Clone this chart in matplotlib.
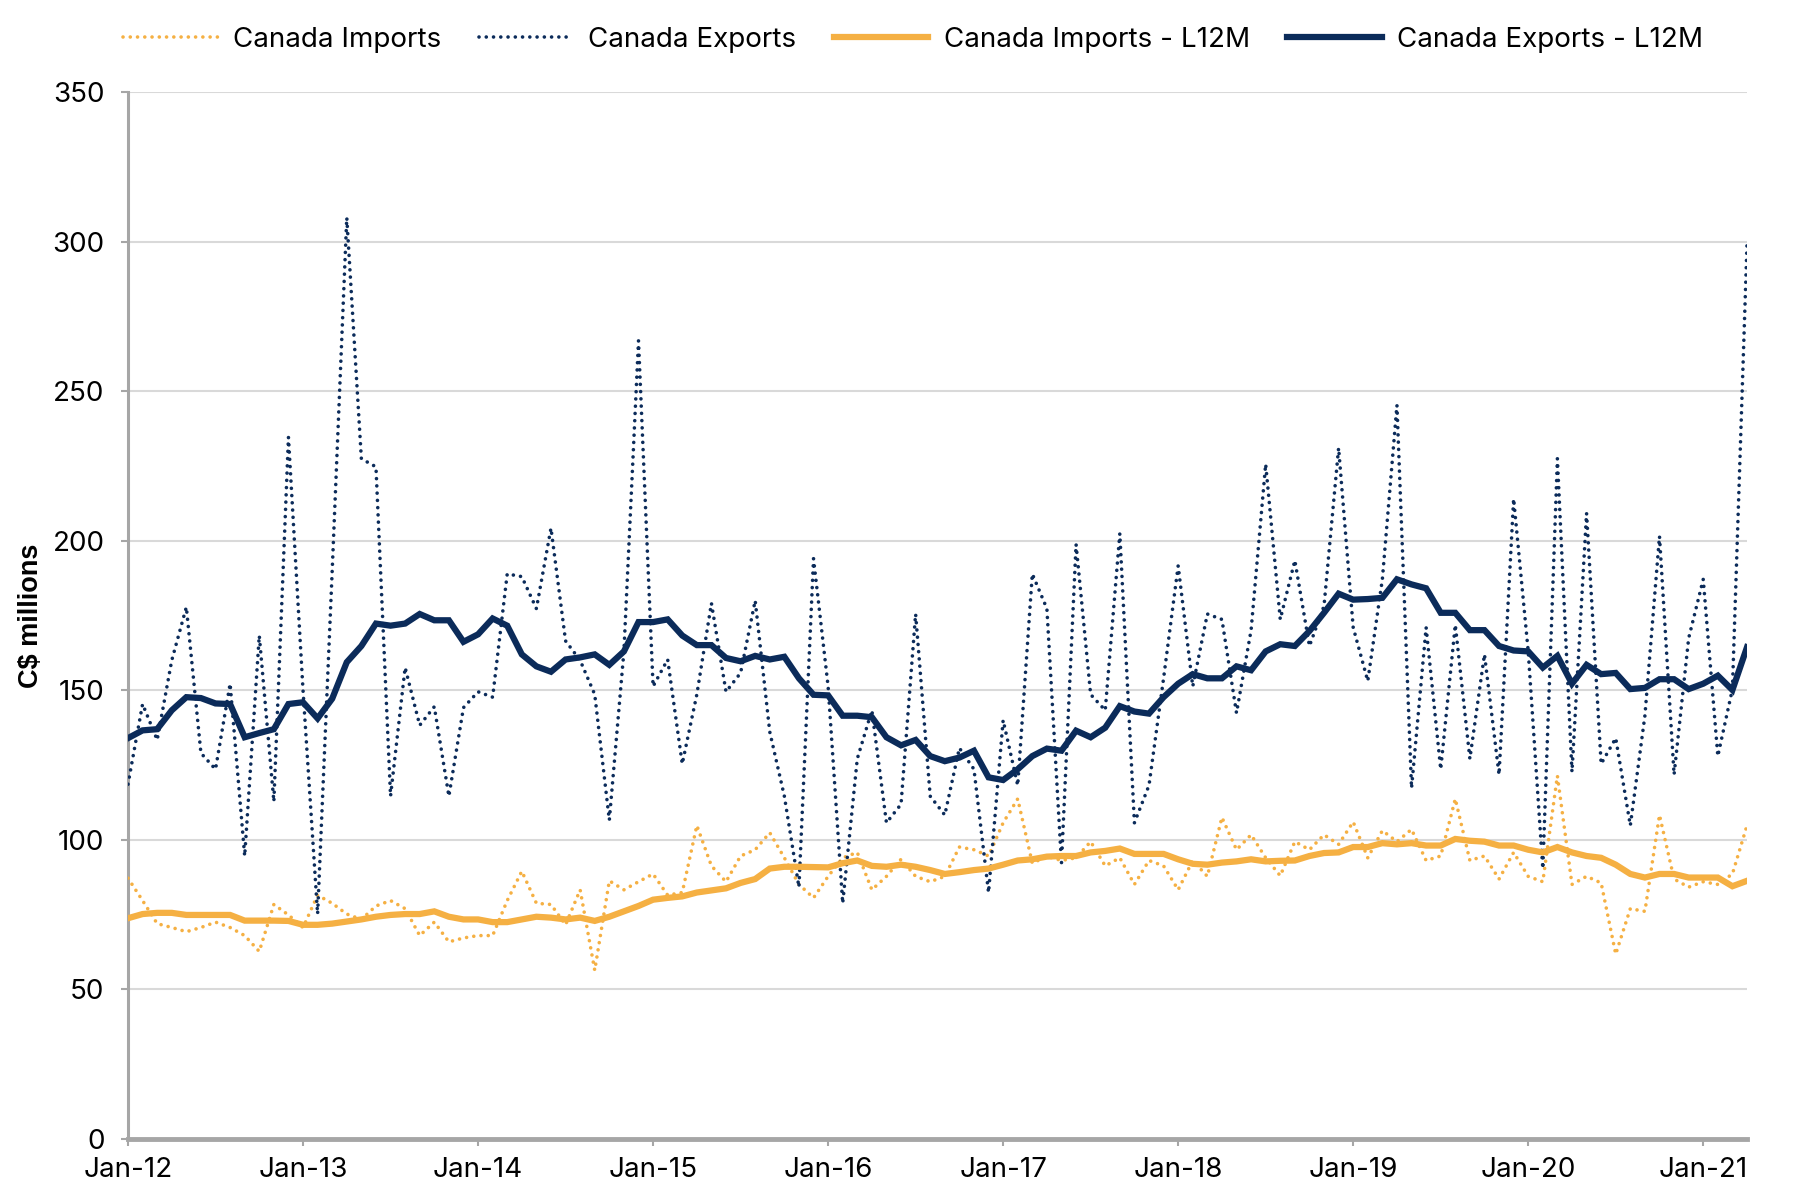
import matplotlib
matplotlib.use("Agg")
import matplotlib.pyplot as plt
import numpy as np

plt.rcParams['font.family'] = ['Inter', 'DejaVu Sans']

tick_labels = ['Jan-12', 'Jan-13', 'Jan-14', 'Jan-15', 'Jan-16', 'Jan-17',
               'Jan-18', 'Jan-19', 'Jan-20', 'Jan-21']

exports = [118.6, 145.4, 133.4, 160, 177.8, 129, 123.6, 152.2, 94.6, 168.3, 112.8, 234.6,
           150, 75.2, 190, 308, 227.4, 224.7, 114.6, 157.6, 138.3, 144.5, 114.6, 144.2,
           149.5, 147.7, 188.9, 188, 177.3, 204.2, 166.5, 160, 148.6, 106.6, 163, 266.8,
           151.3, 160.3, 125.4, 148.6, 179.1, 149.5, 155.8, 180, 136.1, 114.6, 84.2, 194,
           151.3, 78.8, 127.1, 143.3, 105.7, 111.9, 175.5, 114.6, 108.3, 130.7, 123.6, 82.4,
           140, 118.2, 188.9, 177.3, 92.2, 198.8, 148.6, 143.3, 202.4, 105.7, 118.2, 154,
           191.6, 151.3, 175.5, 173.7, 142.4, 170.1, 225.6, 173.7, 193.4, 164.8, 178.2, 231,
           171, 153.1, 187.1, 245.3, 117.3, 171, 123.6, 171.9, 127.1, 162, 121.8, 214,
           163, 90.4, 227.4, 122.7, 209.2, 125.4, 134, 104.8, 141.5, 201.5, 121.8, 167.4,
           187.1, 128, 150.4, 299.1]

exports_l12m = [134, 136.6, 137, 143.3, 147.7, 147.4, 145.6, 145.4, 134.3, 135.7, 137, 145.4,
                146, 140.6, 147.2, 159.4, 164.8, 172.3, 171.6, 172.3, 175.5, 173.4, 173.4, 166.2,
                168.7, 174, 171.6, 162, 158, 156.2, 160.3, 161, 162, 158.5, 163, 172.8,
                172.8, 173.7, 168.3, 165.1, 165.1, 160.8, 159.7, 161.5, 160.3, 161.2, 154, 148.5,
                148.3, 141.5, 141.5, 141, 134.3, 131.6, 133.4, 128, 126.3, 127.5, 129.8, 120.9,
                120, 123.6, 128, 130.5, 129.8, 136.5, 134.3, 137.5, 144.7, 142.9, 142.2, 147.7,
                152.2, 155.4, 154, 154, 158, 156.7, 163, 165.4, 164.8, 169.8, 175.9, 182.3,
                180.3, 180.5, 180.9, 187.1, 185.4, 184.1, 175.9, 175.9, 170.1, 170.1, 164.8, 163.3,
                163, 157.6, 161.5, 152.2, 158.5, 155.4, 155.8, 150.4, 150.8, 153.7, 153.7, 150.4,
                152.2, 154.9, 150.1, 164.4]

imports = [87.2, 79.7, 72, 70.7, 69.3, 70.7, 72.5, 70.7, 68, 62.7, 78.4, 74.9,
           70.7, 81.5, 78.8, 75.2, 73.4, 77.9, 79.7, 77, 68, 72.5, 65.9, 67.2,
           68, 68, 79.7, 89.5, 78.8, 78.4, 71.6, 83.3, 56.4, 86.3, 83.3, 86,
           88.6, 81.5, 82.4, 104.8, 91.3, 86, 94.6, 96.7, 102.4, 94, 85.1, 80.6,
           87.8, 94, 95.8, 83.3, 87.8, 93.5, 87.8, 86, 87.8, 97.6, 96.7, 94.6,
           105.7, 113.7, 92.2, 94.5, 93.1, 94, 99.4, 91.3, 94, 85.1, 93.1, 91.3,
           83.3, 93.1, 87.8, 107.5, 96.7, 101.7, 94, 88, 99.4, 96.7, 101.7, 98.5,
           106, 94, 103.1, 99.4, 103.5, 93.1, 94.6, 113.7, 93.1, 94.6, 86.9, 95.8,
           87.8, 86, 121.4, 85.1, 87.8, 85.6, 61.8, 77, 76.1, 108.3, 86.9, 84.2,
           86, 85.1, 88.6, 104.8]

imports_l12m = [73.8, 75.2, 75.6, 75.6, 74.9, 74.9, 74.9, 74.9, 73, 73, 73, 72.9,
                71.6, 71.6, 72, 72.7, 73.4, 74.3, 74.9, 75.2, 75.2, 76.1, 74.3, 73.4,
                73.4, 72.5, 72.5, 73.4, 74.3, 74, 73.4, 74, 72.9, 74.3, 76.1, 77.9,
                80, 80.6, 81.1, 82.4, 83.1, 83.8, 85.6, 86.9, 90.4, 91, 91, 90.9,
                90.8, 92.2, 93.1, 91.3, 91, 91.7, 91, 89.9, 88.6, 89.2, 89.9, 90.4,
                91.7, 93.1, 93.5, 94.4, 94.6, 94.6, 95.8, 96.3, 97.1, 95.3, 95.3, 95.3,
                93.5, 92, 91.7, 92.4, 92.8, 93.5, 92.8, 93, 93.1, 94.6, 95.6, 95.8,
                97.6, 97.6, 98.9, 98.5, 98.9, 98.1, 98.1, 100.3, 99.7, 99.4, 98.1, 98.1,
                96.7, 95.8, 97.6, 95.8, 94.6, 94, 91.7, 88.6, 87.4, 88.6, 88.6, 87.4,
                87.4, 87.4, 84.5, 86.3]

ORANGE = '#F5B043'
NAVY = '#0B2B5A'
GRID = '#D9D9D9'
AXIS = '#A6A6A6'
DOT = (0, (0.01, 2.0))

fig = plt.figure(figsize=(18.08, 11.94), dpi=100)
ax = fig.add_axes([128/1808, 1 - 1139/1194, (1747-128)/1808, (1139-92)/1194])

x = np.arange(len(exports))
l1, = ax.plot(x, imports, color=ORANGE, lw=2.6, linestyle=DOT,
              dash_capstyle='round', label='Canada Imports', zorder=3)
l2, = ax.plot(x, exports, color=NAVY, lw=2.6, linestyle=DOT,
              dash_capstyle='round', label='Canada Exports', zorder=3)
l3, = ax.plot(x, imports_l12m, color=ORANGE, lw=4.5, solid_joinstyle='miter',
              label='Canada Imports - L12M', zorder=4)
l4, = ax.plot(x, exports_l12m, color=NAVY, lw=4.5, solid_joinstyle='miter',
              label='Canada Exports - L12M', zorder=5)

ax.set_xlim(0, len(exports) - 1)
ax.set_ylim(0, 350)
ax.set_yticks(np.arange(0, 351, 50))
ax.set_xticks(np.arange(0, 12 * len(tick_labels), 12))
ax.set_xticklabels(tick_labels)

ax.grid(axis='y', color=GRID, lw=1.5, zorder=0)
ax.set_axisbelow(True)
for s in ['top', 'right']:
    ax.spines[s].set_visible(False)
ax.spines['left'].set_color(AXIS)
ax.spines['left'].set_linewidth(2.2)
ax.spines['bottom'].set_color(AXIS)
ax.spines['bottom'].set_linewidth(3.5)
ax.spines['bottom'].set_zorder(6)

ax.tick_params(axis='y', length=5, width=1.5, color=AXIS, labelsize=20, pad=12,
               labelcolor='black')
ax.tick_params(axis='x', length=5, width=1.5, color=AXIS, labelsize=20, pad=8,
               labelcolor='black')

ax.set_ylabel('C$ millions', fontsize=19.5, fontweight='bold', labelpad=6,
              family=['Liberation Sans', 'DejaVu Sans'])

fig.legend(handles=[l1, l2, l3, l4], loc='center', bbox_to_anchor=(0.505, 1 - 40/1194),
           ncol=4, frameon=False, fontsize=20, handlelength=3.4, handletextpad=0.55,
           columnspacing=1.35)

fig.savefig('out.png', dpi=100)
